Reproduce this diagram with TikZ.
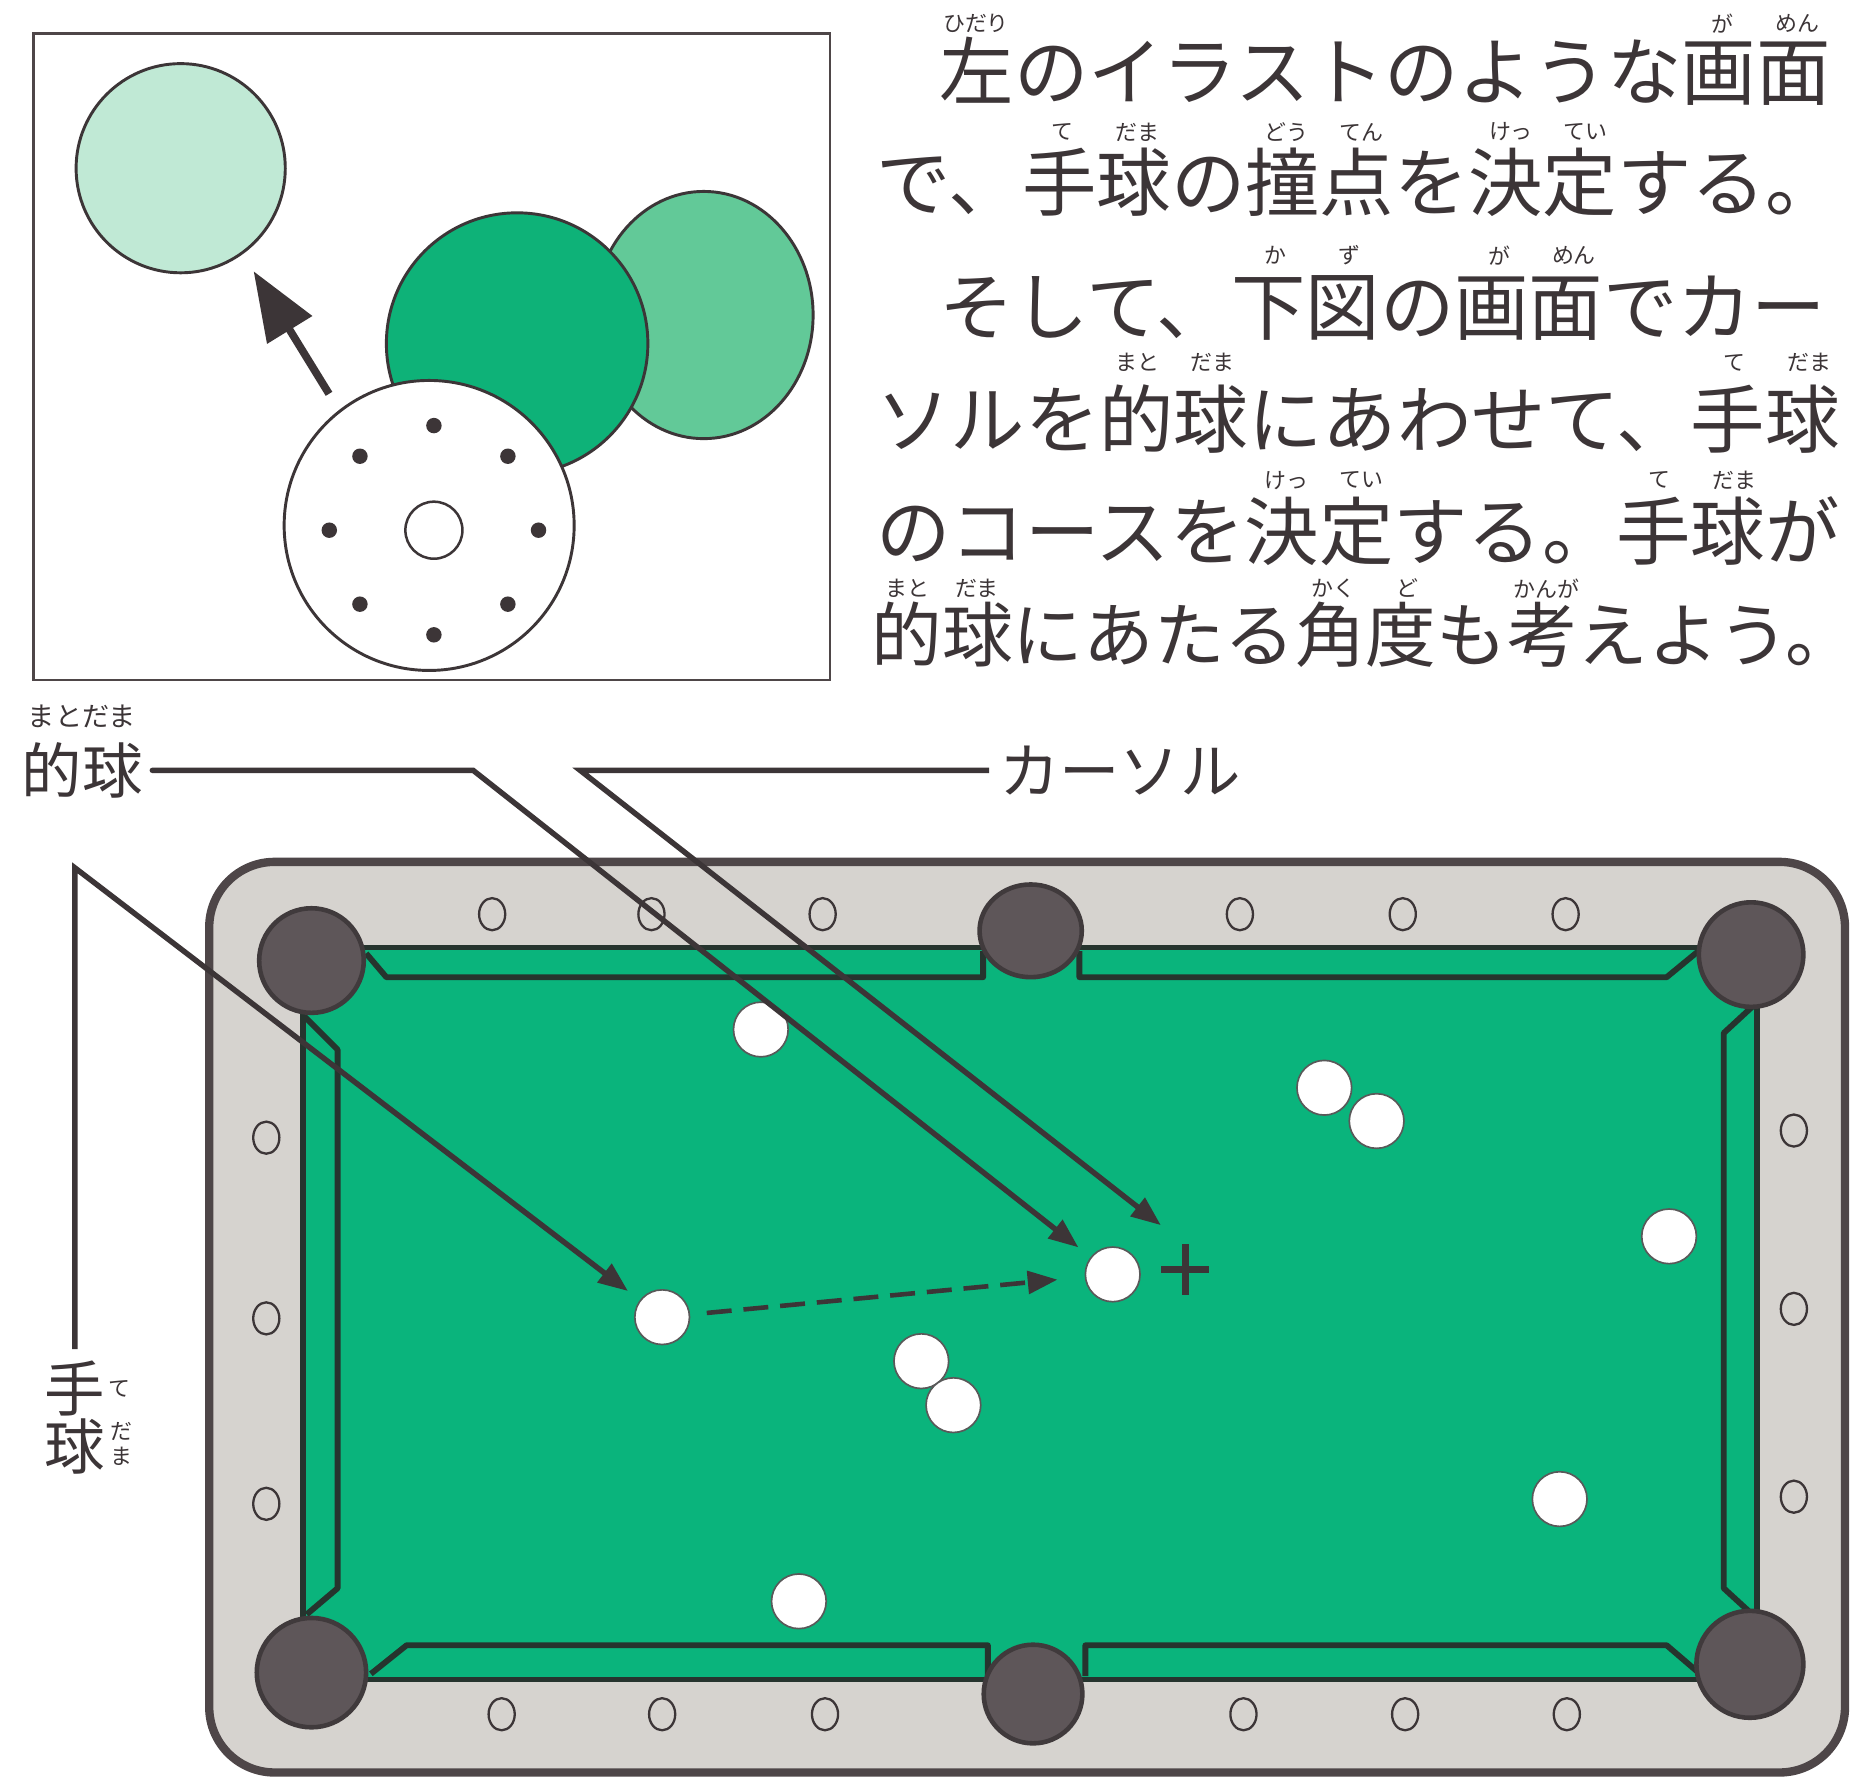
\documentclass[tikz,border=0pt]{standalone}
\usepackage{fontspec}
\newfontfamily\jp{Noto Sans CJK JP}
\usetikzlibrary{arrows.meta, shapes.geometric, positioning}

\definecolor{ink}{RGB}{60,53,55}
\definecolor{frame}{RGB}{78,70,72}
\definecolor{railgray}{RGB}{214,211,207}
\definecolor{felt}{RGB}{10,180,124}
\definecolor{cushionline}{RGB}{38,52,46}
\definecolor{pocketfill}{RGB}{94,86,89}
\definecolor{pocketrim}{RGB}{64,58,60}
\definecolor{mint}{RGB}{192,233,213}
\definecolor{midgreen}{RGB}{98,201,152}
\definecolor{deepgreen}{RGB}{14,178,120}

\begin{document}
\begin{tikzpicture}[
    x=0.02cm, y=-0.02cm,
    >={Triangle[length=0.5cm,width=0.38cm]},
    bodytext/.style={anchor=west, inner sep=0pt, text=ink, text height=31.3pt, text depth=4.3pt, font={\jp\fontsize{35.6pt}{40pt}\selectfont}},
    rubytext/.style={inner sep=0pt, text=ink, font={\jp\fontsize{10.5pt}{12pt}\selectfont}},
    tag/.style={inner sep=0pt, text=ink, text height=25.4pt, text depth=3.5pt, font={\jp\fontsize{28.9pt}{32pt}\selectfont}},
    disc/.style={circle, draw=ink, line width=1.4pt, inner sep=0pt},
    ball/.style={circle, draw=gray!70!black, line width=0.8pt, fill=white, minimum size=0.92cm, inner sep=0pt},
    pocket/.style={circle, draw=pocketrim, line width=2.2pt, fill=pocketfill, inner sep=0pt},
    sight/.style={ellipse, draw=ink, line width=1.1pt, minimum width=0.44cm, minimum height=0.54cm, inner sep=0pt},
    cushion/.style={draw=cushionline, line width=2.8pt, line join=round},
    leader/.style={draw=ink, line width=2.6pt, ->},
]
\path[use as bounding box, fill=white] (0,0) rectangle (1568,1498);

% 左上の図: 手球の撞点
\draw[frame, line width=1.2pt] (28,28) rectangle (698,572);
\node[disc, ellipse, fill=midgreen, minimum width=3.68cm, minimum height=4.16cm] (far) at (592,265) {};
\node[disc, fill=deepgreen, minimum size=4.4cm] (near) at (435,289) {};
\node[disc, fill=white, minimum size=4.88cm] (face) at (361,442) {};
\node[disc, fill=mint, minimum size=3.52cm] (ghost) at (152,141.5) {};
\node[disc, line width=1.2pt, minimum size=0.96cm] (hub) at (365,446) {};
\foreach \a in {0,45,...,315}
    \fill[ink] (hub) ++(\a:88) circle[radius=6.5];
\draw[ink, line width=3.7pt, -{Triangle[length=1.16cm,width=0.86cm]}, shorten <=0.32cm, shorten >=0.34cm] (face.128.7) -- (ghost.-54.5);

% 右上の説明文
\node[bodytext] (line1) at (737,60) {\hspace{0.85em}左のイラストのような画面};
\node[bodytext] (line2) at (737,153) {で、手球の撞点を決定する。};
\node[bodytext] (line3) at (737,258) {\hspace{0.85em}そして、下図の画面でカー};
\node[bodytext] (line4) at (737,353) {ソルを的球にあわせて、手球};
\node[bodytext] (line5) at (737,447) {のコースを決定する。手球が};
\node[bodytext, font={\jp\fontsize{33.8pt}{40pt}\selectfont}] (line6) at (733,533) {的球にあたる角度も考えよう。};

% ふりがな
\foreach \x/\y/\t [count=\i] in {
    821/20/ひだり, 1449/20/が, 1512/20/めん,
    894/111/て, 957/111/だま, 1082/111/どう, 1145/111/てん, 1271/111/けっ, 1334/111/てい,
    1073/215/か, 1135/215/ず, 1261/215/が, 1324/215/めん,
    957/305/まと, 1020/305/だま, 1459/305/て, 1522/305/だま,
    1082/404/けっ, 1145/404/てい, 1396/404/て, 1459/404/だま,
    763/495/まと, 822/495/だま, 1122/495/かく, 1184/495/ど, 1301/495/かんが}
    \node[rubytext] (ruby\i) at (\x,\y) {\t};

% ビリヤード台
\draw[draw=frame, fill=railgray, line width=4pt, rounded corners=1.1cm] (176,725) rectangle (1552,1491);
\draw[draw=cushionline, fill=felt, line width=2.6pt] (255,797) rectangle (1478,1413);

% クッション
\draw[cushion] (308,802) -- (325,822) -- (827,822) -- (827,800);
\draw[cushion] (908,800) -- (908,822) -- (1402,822) -- (1430,799);
\draw[cushion] (1476,845) -- (1450,869) -- (1450,1336) -- (1474,1358);
\draw[cushion] (1430,1408) -- (1402,1384) -- (913,1384) -- (913,1410);
\draw[cushion] (831,1410) -- (831,1384) -- (342,1384) -- (312,1408);
\draw[cushion] (258,1358) -- (284,1336) -- (284,883) -- (256,855);

% ポケット
\node[pocket, minimum size=1.76cm] (pocket-tl) at (262,808) {};
\node[pocket, minimum size=1.76cm] (pocket-tr) at (1473,803) {};
\node[pocket, minimum size=1.84cm] (pocket-bl) at (262,1407) {};
\node[pocket, minimum size=1.8cm] (pocket-br) at (1472,1400) {};
\node[pocket, ellipse, minimum width=1.72cm, minimum height=1.56cm] (pocket-t) at (867,783) {};
\node[pocket, minimum size=1.66cm] (pocket-b) at (869,1425) {};

% ポイント
\foreach \x [count=\i] in {414,548,692,1043,1180,1317}
    \node[sight] (sight-t\i) at (\x,769) {};
\foreach \x [count=\i] in {422,557,694,1046,1182,1318}
    \node[sight] (sight-b\i) at (\x,1442) {};
\foreach \y [count=\i] in {957,1109,1265}
    \node[sight] (sight-l\i) at (224,\y) {};
\foreach \y [count=\i] in {951,1101,1259}
    \node[sight] (sight-r\i) at (1509,\y) {};

% ボール
\node[ball] (b1) at (640,866) {};
\node[ball] (b2) at (1114,915) {};
\node[ball] (b3) at (1158,943) {};
\node[ball] (b4) at (1404,1040) {};
\node[ball] (b5) at (775,1145) {};
\node[ball] (b6) at (802,1182) {};
\node[ball] (b7) at (1312,1261) {};
\node[ball] (b8) at (672,1347) {};
\node[ball] (target) at (936,1072) {};
\node[ball] (cue) at (557,1108) {};

% カーソル
\node[minimum width=0.8cm, minimum height=0.84cm, inner sep=0pt] (cursor) at (997,1068) {};
\draw[ink, line width=3.2pt] (cursor.north) -- (cursor.south) (cursor.west) -- (cursor.east);

% 見出し
\node[tag] (lbl-target) at (69,648) {的球};
\node[rubytext, font={\jp\fontsize{13pt}{14pt}\selectfont}] (lbl-target-ruby) [above=0.2cm of lbl-target] {まとだま};
\node[tag] (lbl-cursor) at (942,648) {カーソル};
\node[tag] (lbl-cue1) at (63,1168) {手};
\node[tag] (lbl-cue2) at (63,1217) {球};
\node[rubytext] (lbl-cue1-ruby) [right=0.05cm of lbl-cue1] {て};
\node[rubytext] (lbl-cue2-ruby1) at (102,1204) {だ};
\node[rubytext] (lbl-cue2-ruby2) [below=0.1cm of lbl-cue2-ruby1] {ま};

% 引き出し線
\coordinate (target-bend) at (398,648);
\coordinate (cursor-bend) at (488,648);
\coordinate (cue-bend) at (63,730);
\draw[leader, line cap=round, shorten <=0.16cm, shorten >=0.26cm] (lbl-target.east) -- (target-bend) -- (target);
\draw[leader, shorten <=0.16cm, shorten >=0.52cm] (lbl-cursor.west) -- (cursor-bend) -- (cursor.north);
\draw[leader, shorten <=0.15cm, shorten >=0.25cm] (lbl-cue1.north) -- (cue-bend) -- (cue);
\draw[leader, line width=2.2pt, dash pattern=on 0.42cm off 0.2cm, shorten <=0.28cm, shorten >=0.46cm] (cue) -- (target);

\end{tikzpicture}
\end{document}
